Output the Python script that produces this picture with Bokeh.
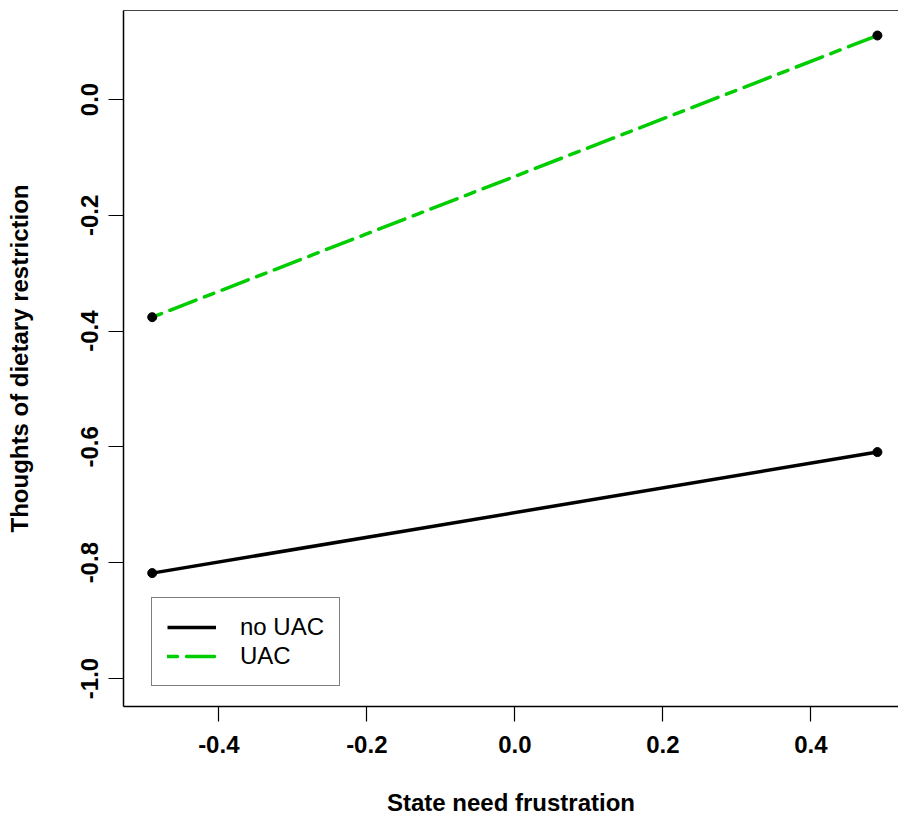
from bokeh.plotting import figure
from bokeh.models import Range1d, FixedTicker, Legend, LegendItem, LinearAxis
from bokeh.embed import file_html
from bokeh.resources import INLINE

# data
x_vals = [-0.49, 0.49]
no_uac = [-0.818, -0.609]
uac = [-0.376, 0.1105]
x_ticks = [-0.4, -0.2, 0.0, 0.2, 0.4]
y_ticks = [0.0, -0.2, -0.4, -0.6, -0.8, -1.0]
series_labels = ["no UAC", "UAC"]

FONT = "Liberation Sans"
FS = "24px"

p = figure(width=898, height=823, output_backend="svg", toolbar_location=None,
           x_range=Range1d(-0.5288, 0.5185), y_range=Range1d(-1.0484, 0.1537),
           min_border_left=123, min_border_right=0, min_border_top=10, min_border_bottom=117)
p.grid.visible = False
p.background_fill_color = "white"
p.border_fill_color = "white"
p.outline_line_color = None

xax = p.below[0]
yax = p.left[0]

for ax in (xax, yax):
    ax.axis_line_color = "black"
    ax.axis_line_width = 1.5
    ax.major_tick_line_color = "black"
    ax.major_tick_line_width = 1.2
    ax.major_tick_out = 15
    ax.major_tick_in = 0
    ax.minor_tick_line_color = None
    ax.major_label_text_font = FONT
    ax.major_label_text_font_style = "bold"
    ax.major_label_text_font_size = FS
    ax.major_label_text_color = "black"
    ax.axis_label_text_font = FONT
    ax.axis_label_text_font_style = "bold"
    ax.axis_label_text_font_size = FS
    ax.axis_label_text_color = "black"

xax.ticker = FixedTicker(ticks=x_ticks)
yax.ticker = FixedTicker(ticks=y_ticks)
xax.major_label_overrides = {t: f"{t:.1f}" for t in x_ticks}
yax.major_label_overrides = {t: f"{t:.1f}" for t in y_ticks}
yax.major_label_orientation = "vertical"
xax.major_label_standoff = 14
yax.major_label_standoff = 10
xax.axis_label = "State need frustration"
yax.axis_label = "Thoughts of dietary restriction"
xax.axis_label_standoff = 33
yax.axis_label_standoff = 46

# top side of the box (right side lies beyond the picture)
top_axis = LinearAxis(ticker=FixedTicker(ticks=[]), axis_line_color="#444444", axis_line_width=1.2,
                      major_tick_line_color=None, minor_tick_line_color=None,
                      major_tick_out=0, major_tick_in=0,
                      major_label_text_font_size="0px", major_label_standoff=0,
                      axis_label=None, axis_label_standoff=0)
p.add_layout(top_axis, "above")

r1 = p.line(x_vals, no_uac, line_color="black", line_width=3.5)
r2 = p.line(x_vals, uac, line_color="#00cd00", line_width=3.5, line_dash="10 9 28 9", line_cap="round")
p.scatter(x_vals, no_uac, size=9, color="black")
p.scatter(x_vals, uac, size=9, color="black")

legend = Legend(items=[LegendItem(label=series_labels[0], renderers=[r1]),
                       LegendItem(label=series_labels[1], renderers=[r2])],
                location=(28, 20), padding=15, spacing=1, glyph_width=49, glyph_height=28,
                label_height=28, label_standoff=24, margin=0,
                label_text_font=FONT, label_text_font_size=FS, label_text_color="black",
                border_line_color="black", border_line_width=1.2, background_fill_alpha=1.0)
p.add_layout(legend, "center")

open("out.html", "w").write(file_html(p, INLINE))
